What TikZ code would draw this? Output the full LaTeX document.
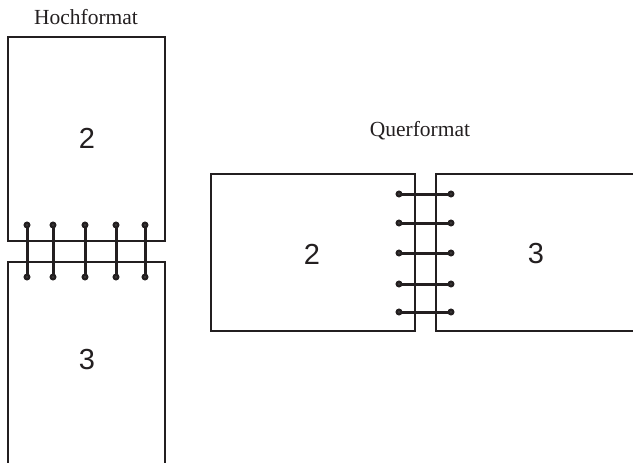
\documentclass[tikz,border=0pt]{standalone}
\usepackage{fontspec}
\setmainfont{Liberation Serif}
\newfontfamily\digitfont{Liberation Sans}
\definecolor{ink}{HTML}{231F20}
\begin{document}
\begin{tikzpicture}[x=1pt,y=-1pt,
  page/.style={draw=ink,line width=2pt},
  ringline/.style={draw=ink,line width=3pt},
  ringdot/.style={draw=ink,fill=white,line width=2.8pt},
  num/.style={font=\digitfont\fontsize{29}{29}\selectfont,text=ink,inner sep=0pt},
  caption/.style={font=\fontsize{21.5}{22}\selectfont,text=ink,inner sep=0pt}]
\useasboundingbox (0,0) rectangle (633,463);
% portrait
\draw[page] (8,37) rectangle (165,241);
\draw[page] (8,463) -- (8,262) -- (165,262) -- (165,463);
\node[caption] (hoch) at (86,17) {Hochformat};
\node[num] (p2) at (87,138) {2};
\node[num] (p3) at (87,360) {3};
\foreach \x [count=\i] in {27,53,85,116,145} {
  \coordinate (pt\i) at (\x,225);
  \coordinate (pb\i) at (\x,277);
  \draw[ringline] (pt\i) -- (pb\i);
  \draw[ringdot] (pt\i) circle (2pt);
  \draw[ringdot] (pb\i) circle (2pt);
}
% landscape
\draw[page] (211,173.5) rectangle (415,330.5);
\draw[page] (633,173.5) -- (435.5,173.5) -- (435.5,330.5) -- (633,330.5);
\node[caption] (quer) at (420,131) {Querformat};
\node[num] (l2) at (312,254) {2};
\node[num] (l3) at (536,254) {3};
\foreach \y [count=\i] in {194,223,253,284,312} {
  \coordinate (ll\i) at (399,\y);
  \coordinate (lr\i) at (451,\y);
  \draw[ringline] (ll\i) -- (lr\i);
  \draw[ringdot] (ll\i) circle (2pt);
  \draw[ringdot] (lr\i) circle (2pt);
}
\end{tikzpicture}
\end{document}
